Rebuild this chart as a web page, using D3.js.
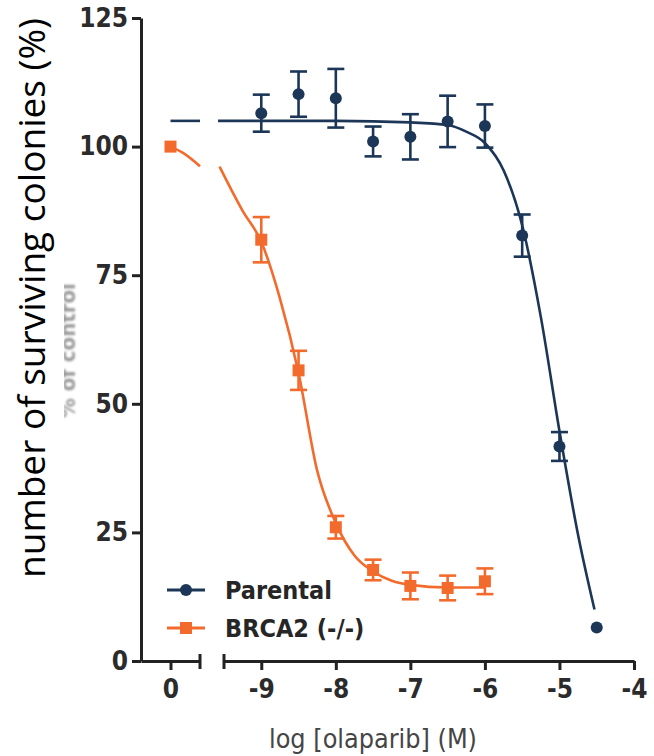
<!DOCTYPE html>
<html>
<head>
<meta charset="utf-8">
<script src="https://cdn.jsdelivr.net/npm/d3@7"></script>
<style>
  body { margin: 0; background: #fff; }
  svg { display: block; }
  .tick text { font-family: "DejaVu Sans Condensed", "DejaVu Sans", sans-serif; font-weight: bold; font-size: 26px; fill: #2b2b2b; }
</style>
</head>
<body>
<div id="chart"></div>
<script>
var width = 654
var height = 756

// data
var yTicks = [0, 25, 50, 75, 100, 125]
var xTicksLeft = [0]
var xTicksRight = [-9, -8, -7, -6, -5, -4]

var parentalX = [-9, -8.5, -8, -7.5, -7, -6.5, -6, -5.5, -5, -4.5]
var parentalY = [106.5, 110.2, 109.4, 101, 101.9, 104.9, 104, 82.7, 41.7, 6.5]
var parentalErr = [3.6, 4.4, 5.7, 2.9, 4.4, 5, 4.2, 4.1, 2.8, 0]

var brcaX = [0, -9, -8.5, -8, -7.5, -7, -6.5, -6]
var brcaY = [100, 81.9, 56.5, 26, 17.7, 14.6, 14.2, 15.5]
var brcaErr = [0, 4.4, 3.8, 2.2, 2, 2.6, 2.4, 2.5]

// fitted curves
var parentalFitLeft = [[0, 105], [0.4, 105]]
var parentalFitRight = [[-9.58, 105], [-8, 105], [-7, 104.7], [-6.5, 104.2], [-6.25, 102.9], [-6, 100.7],
  [-5.75, 95.4], [-5.5, 84.7], [-5.25, 66.9], [-5, 44.7], [-4.75, 24.5], [-4.53, 10]]
var brcaFitLeft = [[0, 100], [0.18, 98.7], [0.4, 96.2]]
var brcaFitRight = [[-9.56, 96.1], [-9.25, 87.5], [-9, 81.5], [-8.75, 70.5], [-8.5, 56], [-8.25, 37], [-8, 26.8],
  [-7.75, 20.5], [-7.5, 17.4], [-7.25, 15.6], [-7, 14.8], [-6.5, 14.3], [-6, 14.3]]

var seriesNames = ["Parental", "BRCA2 (-/-)"]
var navy = "#1c3657"
var orange = "#f36b2c"

var svg = d3.select("#chart")
  .append("svg")
    .attr("width", width)
    .attr("height", height)

var y = d3.scaleLinear().domain([0, 125]).range([661, 18])
var xL = d3.scaleLinear().domain([-0.4, 0.4]).range([141, 200])
var xR = d3.scaleLinear().domain([-9.5, -4]).range([224, 634])

function xPos(v) { return v > -1 ? xL(v) : xR(v) }

// old label fragment peeking from under the new one
svg.append("defs").append("filter").attr("id", "soft")
  .append("feGaussianBlur").attr("stdDeviation", 1)
svg.append("text")
  .attr("transform", "translate(75,418) rotate(-90)")
  .attr("filter", "url(#soft)")
  .style("font-family", "DejaVu Sans Condensed, sans-serif")
  .style("font-weight", "bold")
  .style("font-size", "22px")
  .style("fill", "#9a9a9a")
  .text("% of control")
svg.append("rect")
  .attr("x", 0).attr("y", 0).attr("width", 64).attr("height", 600)
  .attr("fill", "#fff")

// y axis
var yAxis = svg.append("g")
  .attr("transform", "translate(141,0)")
  .call(d3.axisLeft(y).tickValues(yTicks).tickSize(9).tickSizeOuter(0).tickPadding(4))
yAxis.select(".domain").attr("stroke", "#222").attr("stroke-width", 3)
yAxis.selectAll(".tick line").attr("stroke", "#222").attr("stroke-width", 3)

// x axis, two segments
function drawX(scale, ticks) {
  var g = svg.append("g")
    .attr("transform", "translate(0,661)")
    .call(d3.axisBottom(scale).tickValues(ticks).tickSize(9).tickSizeOuter(0).tickPadding(10)
      .tickFormat(d3.format("d")))
  g.select(".domain").attr("stroke", "#222").attr("stroke-width", 3)
  g.selectAll(".tick line").attr("stroke", "#222").attr("stroke-width", 3)
  g.selectAll(".tick text").text(function(d) { return d < 0 ? "-" + Math.abs(d) : d })
  return g
}
drawX(xL, xTicksLeft)
drawX(xR, xTicksRight)

// end caps at the axis break
svg.append("line")
  .attr("x1", xL(0.4)).attr("x2", xL(0.4)).attr("y1", 654).attr("y2", 669)
  .attr("stroke", "#222").attr("stroke-width", 3)
svg.append("line")
  .attr("x1", xR(-9.5)).attr("x2", xR(-9.5)).attr("y1", 654).attr("y2", 669)
  .attr("stroke", "#222").attr("stroke-width", 3)

// curves
var lineL = d3.line().x(function(d) { return xL(d[0]) }).y(function(d) { return y(d[1]) }).curve(d3.curveMonotoneX)
var lineR = d3.line().x(function(d) { return xR(d[0]) }).y(function(d) { return y(d[1]) }).curve(d3.curveMonotoneX)

var curves = [
  [parentalFitLeft, lineL, navy], [parentalFitRight, lineR, navy],
  [brcaFitLeft, lineL, orange], [brcaFitRight, lineR, orange]
]
curves.forEach(function(c) {
  svg.append("path")
    .datum(c[0])
    .attr("d", c[1])
    .attr("fill", "none")
    .attr("stroke", c[2])
    .attr("stroke-width", 2.6)
})

// error bars + markers
function drawSeries(xs, ys, errs, color, shape) {
  var data = xs.map(function(v, i) { return { x: v, y: ys[i], e: errs[i] } })
  var g = svg.append("g")
  var bars = g.selectAll(".err").data(data.filter(function(d) { return d.e > 0 })).enter().append("g")
  bars.append("line")
    .attr("x1", function(d) { return xPos(d.x) }).attr("x2", function(d) { return xPos(d.x) })
    .attr("y1", function(d) { return y(d.y + d.e) }).attr("y2", function(d) { return y(d.y - d.e) })
    .attr("stroke", color).attr("stroke-width", 2.6)
  ;[1, -1].forEach(function(s) {
    bars.append("line")
      .attr("x1", function(d) { return xPos(d.x) - 8.5 }).attr("x2", function(d) { return xPos(d.x) + 8.5 })
      .attr("y1", function(d) { return y(d.y + s * d.e) }).attr("y2", function(d) { return y(d.y + s * d.e) })
      .attr("stroke", color).attr("stroke-width", 2.6)
  })
  if (shape == "circle") {
    g.selectAll("circle").data(data).enter().append("circle")
      .attr("cx", function(d) { return xPos(d.x) })
      .attr("cy", function(d) { return y(d.y) })
      .attr("r", 6)
      .attr("fill", color)
  } else {
    g.selectAll("rect.pt").data(data).enter().append("rect")
      .attr("x", function(d) { return xPos(d.x) - 6 })
      .attr("y", function(d) { return y(d.y) - 6 })
      .attr("width", 12).attr("height", 12)
      .attr("fill", color)
  }
}
drawSeries(parentalX, parentalY, parentalErr, navy, "circle")
drawSeries(brcaX, brcaY, brcaErr, orange, "square")

// legend
var legend = svg.append("g")
seriesNames.forEach(function(name, i) {
  var ly = 590 + i * 38
  var color = i == 0 ? navy : orange
  legend.append("line")
    .attr("x1", 167).attr("x2", 205).attr("y1", ly).attr("y2", ly)
    .attr("stroke", color).attr("stroke-width", 3)
  if (i == 0) {
    legend.append("circle").attr("cx", 186).attr("cy", ly).attr("r", 6).attr("fill", color)
  } else {
    legend.append("rect").attr("x", 180).attr("y", ly - 6).attr("width", 12).attr("height", 12).attr("fill", color)
  }
  legend.append("text")
    .attr("x", 225).attr("y", ly + 9)
    .style("font-family", "DejaVu Sans Condensed, sans-serif")
    .style("font-weight", "bold")
    .style("font-size", "25px")
    .style("fill", "#262626")
    .text(name)
})

// axis titles
svg.append("text")
  .attr("x", 373).attr("y", 748)
  .attr("text-anchor", "middle")
  .attr("textLength", 208)
  .attr("lengthAdjust", "spacingAndGlyphs")
  .style("font-family", "DejaVu Sans Condensed, sans-serif")
  .style("font-size", "26px")
  .style("fill", "#454545")
  .text("log [olaparib] (M)")

svg.append("text")
  .attr("transform", "translate(45,578) rotate(-90)")
  .attr("textLength", 560)
  .attr("lengthAdjust", "spacingAndGlyphs")
  .style("font-family", "Open Sans, sans-serif")
  .style("font-size", "37px")
  .style("fill", "#000")
  .text("number of surviving colonies (%)")
</script>
</body>
</html>
